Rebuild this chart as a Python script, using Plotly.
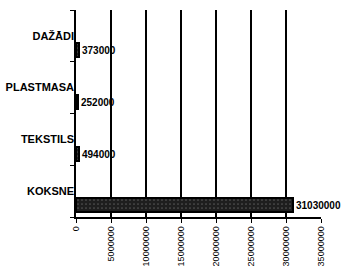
import plotly.graph_objects as go

categories = ["KOKSNE", "TEKSTILS", "PLASTMASA", "DAŽĀDI"]
values = [31030000, 494000, 252000, 373000]
value_labels = ["31030000", "494000", "252000", "373000"]
tick_vals = [0, 5000000, 10000000, 15000000, 20000000, 25000000, 30000000, 35000000]
tick_text = ["0", "5000000", "10000000", "15000000", "20000000", "25000000", "30000000", "35000000"]

font_family = "Liberation Sans, Arial, sans-serif"

fig = go.Figure()
fig.add_trace(go.Bar(
    x=values,
    y=categories,
    orientation="h",
    width=0.27,
    offset=-0.41,
    marker=dict(
        color="#1e1e1e",
        line=dict(color="#000000", width=2),
        pattern=dict(shape=".", fgcolor="#8a8a8a", size=4, solidity=0.15),
    ),
    text=value_labels,
    textposition="outside",
    textfont=dict(family=font_family, size=10, color="#000000", weight="bold"),
    cliponaxis=False,
    hoverinfo="skip",
))

fig.update_layout(
    width=350,
    height=266,
    margin=dict(l=76, r=29, t=10, b=49),
    paper_bgcolor="white",
    plot_bgcolor="white",
    showlegend=False,
    bargap=0,
    xaxis=dict(
        range=[0, 35000000],
        tickmode="array",
        tickvals=tick_vals,
        ticktext=tick_text,
        tickangle=-90,
        tickfont=dict(family=font_family, size=9, color="#000000"),
        showgrid=True,
        gridcolor="#000000",
        gridwidth=1.5,
        showline=True,
        linecolor="#000000",
        linewidth=1.5,
        ticks="outside",
        ticklen=4,
        tickcolor="#000000",
        zeroline=False,
        automargin=False,
        fixedrange=True,
    ),
    yaxis=dict(
        type="category",
        categoryorder="array",
        categoryarray=categories,
        tickfont=dict(family=font_family, size=11, color="#000000", weight="bold"),
        showline=True,
        linecolor="#000000",
        linewidth=1.5,
        ticks="outside",
        tickson="boundaries",
        ticklen=4,
        tickcolor="#000000",
        ticklabelstandoff=-2,
        showgrid=False,
        automargin=False,
        fixedrange=True,
    ),
)

fig.write_html("out.html")
